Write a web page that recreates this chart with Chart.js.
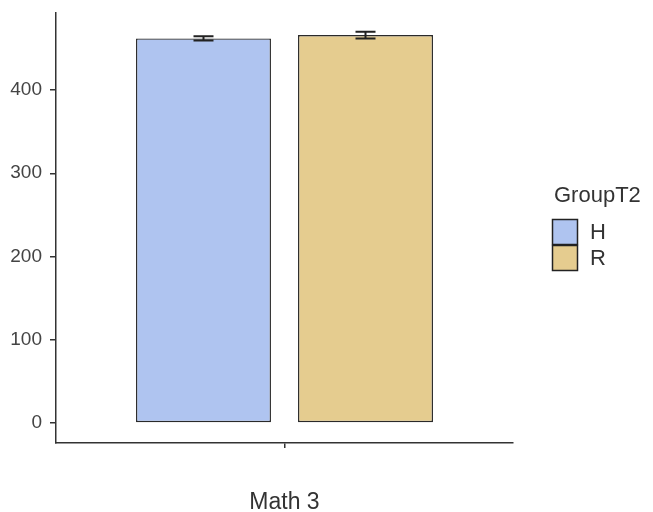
<!DOCTYPE html>
<html>
<head>
<meta charset="utf-8">
<script src="https://cdn.jsdelivr.net/npm/chart.js@4"></script>
<style>
html,body{margin:0;padding:0;background:#fff;}
#wrap{width:653px;height:512px;}
</style>
</head>
<body>
<div id="wrap"><canvas id="c" width="653" height="512"></canvas></div>
<script>
const categories = ['Math 3'];
const groups = ['H', 'R'];
const valuesH = [462];
const valuesR = [466];
const errorsH = [2.5];
const errorsR = [4];
const yTicks = [0, 100, 200, 300, 400];
const legendTitle = 'GroupT2';
const colors = ['#afc4f0', '#e5cc8f'];

const FONT = 'Liberation Sans, Arial, sans-serif';

const errorBarPlugin = {
  id: 'errorBars',
  afterDatasetsDraw(chart) {
    const ctx = chart.ctx;
    const y = chart.scales.y;
    chart.data.datasets.forEach((ds, di) => {
      const meta = chart.getDatasetMeta(di);
      meta.data.forEach((bar, i) => {
        const v = ds.data[i], e = ds.errors[i];
        const top = y.getPixelForValue(v + e), bot = y.getPixelForValue(v - e);
        const x = bar.x, cap = 10;
        ctx.save();
        ctx.strokeStyle = '#222';
        ctx.lineWidth = 2;
        ctx.beginPath();
        ctx.moveTo(x, top); ctx.lineTo(x, bot);
        ctx.moveTo(x - cap, top); ctx.lineTo(x + cap, top);
        ctx.moveTo(x - cap, bot); ctx.lineTo(x + cap, bot);
        ctx.stroke();
        ctx.restore();
      });
    });
  }
};

const legendPlugin = {
  id: 'sideLegend',
  afterDraw(chart) {
    const ctx = chart.ctx;
    const a = chart.chartArea;
    const x0 = a.right + 39, y0 = 219, bw = 26, bh = 26;
    ctx.save();
    ctx.fillStyle = '#333';
    ctx.font = '22px ' + FONT;
    ctx.textBaseline = 'middle';
    ctx.textAlign = 'left';
    ctx.fillText(legendTitle, x0 + 2, 196);
    chart.data.datasets.forEach((ds, i) => {
      const by = y0 + i * bh;
      ctx.fillStyle = ds.backgroundColor;
      ctx.fillRect(x0, by, bw, bh);
      ctx.strokeStyle = '#222';
      ctx.lineWidth = 1.5;
      ctx.strokeRect(x0 + 0.5, by + 0.5, bw - 1, bh - 1);
      ctx.fillStyle = '#333';
      ctx.fillText(ds.label, x0 + 38, by + 14);
    });
    ctx.restore();
  }
};

const barStyle = { borderColor: '#2a2a2a', borderWidth: 1.4, borderSkipped: false, barPercentage: 0.833, categoryPercentage: 0.709 };

new Chart(document.getElementById('c'), {
  type: 'bar',
  data: {
    labels: categories,
    datasets: [
      Object.assign({ label: groups[0], data: valuesH, errors: errorsH, backgroundColor: colors[0] }, barStyle),
      Object.assign({ label: groups[1], data: valuesR, errors: errorsR, backgroundColor: colors[1] }, barStyle)
    ]
  },
  options: {
    responsive: false,
    animation: false,
    layout: { padding: { top: 13, right: 140, left: 0, bottom: 0 } },
    plugins: { legend: { display: false }, tooltip: { enabled: false } },
    scales: {
      x: {
        grid: { display: true, offset: false, drawOnChartArea: false, drawTicks: true, tickLength: 5, color: '#333', lineWidth: 1.5 },
        border: { display: true, color: '#333', width: 1.5 },
        ticks: { color: '#333', font: { size: 23, family: FONT }, padding: 41 },
        afterFit(s) { s.height = 69; s.paddingLeft = 0; s.paddingRight = 0; }
      },
      y: {
        min: -24,
        max: 492.5,
        grid: { display: true, drawOnChartArea: false, drawTicks: true, tickLength: 6, color: '#333', lineWidth: 1.5 },
        border: { display: true, color: '#333', width: 1.5 },
        ticks: { color: '#444', font: { size: 19, family: FONT }, padding: 8 },
        afterBuildTicks(s) { s.ticks = yTicks.map(v => ({ value: v })); },
        afterFit(s) { s.width = 56; s.paddingTop = 0; s.paddingBottom = 0; }
      }
    }
  },
  plugins: [errorBarPlugin, legendPlugin]
});
</script>
</body>
</html>
